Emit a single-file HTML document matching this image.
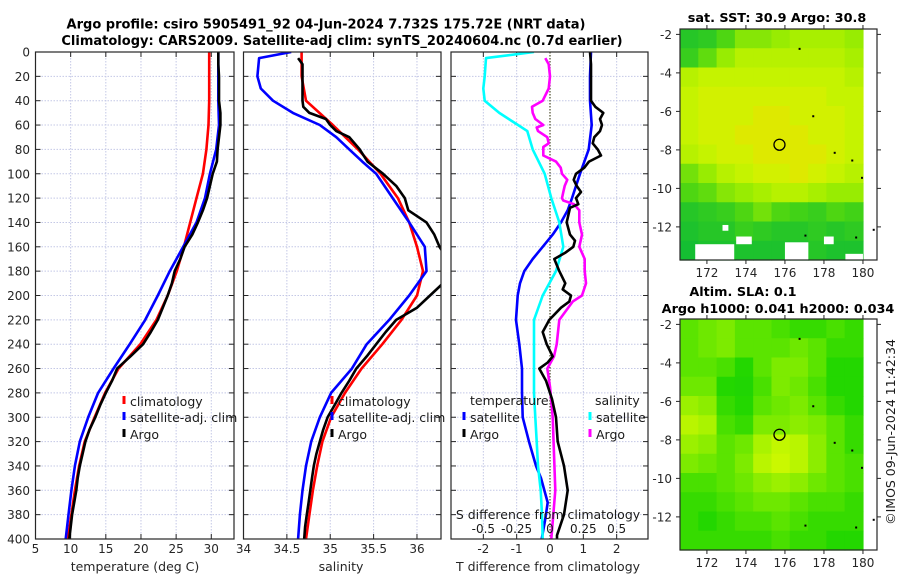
<!DOCTYPE html>
<html><head><meta charset="utf-8">
<style>
html,body{margin:0;padding:0;background:#fff;}
svg{display:block;font-family:"DejaVu Sans","Liberation Sans",sans-serif;}
</style></head>
<body>
<svg id="fig" width="900" height="580" viewBox="0 0 900 580" xmlns="http://www.w3.org/2000/svg">
<rect width="900" height="580" fill="#fff"/>
<text x="326" y="28.5" font-size="13" font-weight="bold" text-anchor="middle" fill="#000">Argo profile: csiro 5905491_92 04-Jun-2024 7.732S 175.72E (NRT data)</text>
<text x="342" y="45" font-size="13" font-weight="bold" text-anchor="middle" fill="#000">Climatology: CARS2009. Satellite-adj clim: synTS_20240604.nc (0.7d earlier)</text>
<g id="layer"></g>
</svg>
<script>
// ---------- data ----------
const depthTicks = [0,20,40,60,80,100,120,140,160,180,200,220,240,260,280,300,320,340,360,380,400];
const tTicks = [5,10,15,20,25,30];
const sTicks = [34,34.5,35,35.5,36];
const sTickLabels = ["34","34.5","35","35.5","36"];
const dTTicks = [-2,-1,0,1,2];
const dSTicks = [-0.5,-0.25,0,0.25,0.5];
const dSTickLabels = ["-0.5","-0.25","0","0.25","0.5"];

const tDepth = [0,20,40,60,80,100,120,140,160,180,200,220,240,260,280,300,320,340,360,380,400];
const tClim = [29.7,29.7,29.7,29.6,29.3,28.8,27.9,27.0,26.1,25.1,23.8,22.2,19.9,16.8,14.9,13.4,12.0,11.2,10.6,10.1,9.6];
const tSat = [31.0,31.0,31.0,31.1,30.7,29.8,29.1,27.9,26.0,24.1,22.4,20.6,18.4,16.1,13.9,12.5,11.3,10.6,10.1,9.7,9.3];
const tArgoDepth = [0,10,20,30,40,50,60,70,80,90,100,110,120,130,140,150,160,170,180,190,200,210,220,230,240,250,260,270,280,290,300,310,320,330,340,350,360,370,380,390,400];
const tArgo = [31.0,31.0,31.1,31.1,31.1,31.3,31.3,31.1,30.9,30.8,30.2,29.8,29.4,28.8,28.1,27.3,26.2,25.6,24.8,24.4,23.8,23.1,22.4,21.4,20.3,18.5,16.6,15.9,15.0,14.2,13.5,12.7,12.1,11.7,11.3,11.0,10.8,10.5,10.2,10.0,9.8];

const sDepth = [0,20,40,60,80,100,120,140,160,180,200,220,240,260,280,300,320,340,360,380,400];
const sClim = [34.67,34.67,34.72,35.03,35.32,35.58,35.78,35.91,36.0,36.07,36.0,35.82,35.6,35.36,35.17,35.01,34.91,34.85,34.80,34.76,34.72];
const sSatDepth = [0,5,20,30,40,50,60,70,80,90,100,120,140,160,180,200,220,240,260,280,300,320,340,360,380,400];
const sSat = [34.55,34.18,34.16,34.2,34.34,34.57,34.88,35.07,35.22,35.37,35.53,35.72,35.91,36.09,36.11,35.91,35.68,35.42,35.25,35.01,34.88,34.78,34.72,34.68,34.65,34.63];
const sArgoDepth = [5,10,20,30,40,45,50,55,60,65,70,80,90,100,110,120,130,140,150,160,170,180,190,200,210,220,230,240,250,260,270,280,290,300,310,320,330,340,350,360,370,380,390,400];
const sArgo = [34.63,34.68,34.68,34.68,34.68,34.69,34.76,34.95,35.0,35.07,35.22,35.34,35.43,35.61,35.76,35.86,35.9,36.11,36.2,36.26,36.35,36.4,36.3,36.15,36.0,35.76,35.64,35.53,35.42,35.3,35.22,35.13,35.05,34.97,34.92,34.88,34.84,34.81,34.79,34.77,34.75,34.73,34.71,34.70];

const dTSatDepth = [0,20,40,60,80,100,120,130,140,150,160,170,180,190,200,220,240,260,280,300,320,340,350,370,385,400];
const dTSat = [1.23,1.2,1.2,1.25,1.16,0.9,0.66,0.53,0.33,0.08,-0.22,-0.52,-0.77,-0.9,-0.97,-1.02,-0.92,-0.84,-0.84,-0.82,-0.63,-0.42,-0.27,-0.07,-0.15,-0.25];
const dTArgoDepth = [0,10,40,45,50,55,60,65,70,75,80,85,90,95,100,105,110,115,120,125,128,140,150,155,160,165,170,180,190,195,200,205,210,220,230,240,250,255,260,270,285,300,320,340,360,380,397,400];
const dTArgo = [1.2,1.23,1.23,1.36,1.6,1.5,1.56,1.5,1.33,1.28,1.43,1.53,1.17,1.03,0.78,0.71,0.8,0.93,0.78,0.85,0.6,0.5,0.6,0.75,0.7,0.45,0.13,0.28,0.46,0.38,0.63,0.58,0.33,-0.02,-0.22,-0.1,0.08,-0.07,-0.32,-0.12,0.06,0.18,0.23,0.42,0.53,0.42,0.21,0.21];
const dSSatDepth = [0,5,20,30,40,50,60,65,80,100,120,140,160,180,200,220,240,260,280,300,320,340,360,380,400];
const dSSat = [-0.12,-0.48,-0.49,-0.50,-0.49,-0.38,-0.24,-0.17,-0.13,-0.04,0.01,0.07,0.10,0.045,-0.055,-0.12,-0.12,-0.12,-0.12,-0.11,-0.10,-0.09,-0.07,-0.06,-0.055];
const dSArgoDepth = [5,10,20,30,40,45,50,55,60,62,65,70,75,78,85,90,95,100,105,110,115,120,122,125,130,140,150,160,170,180,190,200,205,220,240,250,260,275,300,330,360,400];
const dSArgo = [-0.035,-0.01,0,-0.01,-0.055,-0.135,-0.13,-0.11,-0.05,-0.1,-0.09,-0.02,-0.01,-0.05,-0.05,0.045,0.08,0.09,0.13,0.11,0.1,0.09,0.1,0.18,0.22,0.22,0.24,0.22,0.26,0.26,0.27,0.24,0.17,0.07,0.05,0.03,-0.02,0,0.02,0.03,0.04,0.01];

// maps
const lonTicks = [172,174,176,178,180];
const latTicks = [-2,-4,-6,-8,-10,-12];
const sstGrid = [
 [29.6,29.7,30.0,30.3,30.3,30.4,30.5,30.5,30.5,30.4],
 [29.8,30.1,30.4,30.6,30.6,30.6,30.6,30.6,30.6,30.5],
 [30.6,30.7,30.7,30.7,30.7,30.7,30.7,30.7,30.7,30.6],
 [30.7,30.8,30.8,30.8,30.8,30.8,30.8,30.8,30.7,30.7],
 [30.7,30.8,30.8,30.8,30.9,30.9,30.8,30.8,30.8,30.7],
 [30.7,30.8,30.8,30.9,30.9,30.9,30.9,30.8,30.8,30.7],
 [30.6,30.7,30.8,30.8,30.9,30.9,30.9,30.9,30.8,30.7],
 [30.2,30.4,30.6,30.7,30.8,30.8,30.9,30.8,30.7,30.6],
 [30.0,30.1,30.3,30.4,30.5,30.6,30.6,30.5,30.4,30.4],
 [29.6,29.7,29.8,30.0,30.2,30.0,29.9,29.8,30.0,29.9],
 [29.5,29.6,29.6,29.8,29.7,29.6,29.6,29.7,29.6,29.7],
 [29.4,29.5,29.5,29.5,29.5,29.5,29.5,29.6,29.5,29.5]
];
const sstGaps = [[171.4,173.4,-12.9,-13.7],[173.5,174.3,-12.5,-12.9],[176.0,177.2,-12.8,-13.7],[178.0,178.5,-12.5,-12.9],[179.1,180.0,-13.4,-13.7],[172.8,173.1,-11.9,-12.2]];
const slaGrid = [
 [0.45,0.5,0.55,0.45,0.45,0.4,0.35,0.35,0.4,0.35],
 [0.45,0.5,0.55,0.45,0.45,0.45,0.5,0.45,0.35,0.35],
 [0.45,0.45,0.4,0.3,0.45,0.55,0.55,0.45,0.3,0.3],
 [0.5,0.5,0.3,0.25,0.4,0.55,0.5,0.4,0.3,0.3],
 [0.65,0.6,0.35,0.3,0.45,0.5,0.55,0.45,0.35,0.3],
 [0.75,0.7,0.4,0.35,0.55,0.55,0.6,0.55,0.45,0.35],
 [0.65,0.6,0.45,0.5,0.7,0.78,0.75,0.6,0.45,0.35],
 [0.55,0.5,0.45,0.55,0.75,0.82,0.75,0.6,0.45,0.4],
 [0.4,0.4,0.45,0.5,0.6,0.65,0.6,0.5,0.45,0.4],
 [0.35,0.35,0.4,0.45,0.5,0.5,0.45,0.4,0.4,0.35],
 [0.35,0.3,0.35,0.4,0.4,0.45,0.4,0.35,0.35,0.35],
 [0.35,0.35,0.35,0.35,0.35,0.4,0.35,0.35,0.3,0.3]
];
const argoLon = 175.72;
const argoLat = -7.732;

// ---------- drawing ----------
const NS = "http://www.w3.org/2000/svg";
const layer = document.getElementById("layer");
function mk(tag, attrs, parent) {
  const e = document.createElementNS(NS, tag);
  for (const k in attrs) e.setAttribute(k, attrs[k]);
  (parent || layer).appendChild(e);
  return e;
}
function txt(x, y, s, size, anchor, parent, extra) {
  const e = mk("text", Object.assign({x: x, y: y, "font-size": size, "text-anchor": anchor || "start", fill: "#262626"}, extra || {}), parent);
  e.textContent = s;
  return e;
}
const TOP = 52, BOT = 539;
function yD(d) { return TOP + (BOT - TOP) * d / 400; }

function panel(name, x0, x1, vmin, vmax) {
  const g = mk("g", {});
  
  
  const sx = v => x0 + (x1 - x0) * (v - vmin) / (vmax - vmin);
  return {g, sx, x0, x1};
}
function frame(p, xgrid) {
  const gg = mk("g", {stroke: "#c4c8e6", "stroke-width": 1, "stroke-dasharray": "1.5,1.5"}, p.g);
  
  
  depthTicks.forEach(d => { mk("line", {x1: p.x0, x2: p.x1, y1: yD(d), y2: yD(d)}, gg); });
  xgrid.forEach(v => { const x = p.sx(v); mk("line", {x1: x, x2: x, y1: TOP, y2: BOT}, gg); });
  const tk = mk("g", {stroke: "#262626", "stroke-width": 1}, p.g);
  
  
  depthTicks.forEach(d => {
    mk("line", {x1: p.x0, x2: p.x0 + 5, y1: yD(d), y2: yD(d)}, tk);
    mk("line", {x1: p.x1 - 5, x2: p.x1, y1: yD(d), y2: yD(d)}, tk);
  });
  xgrid.forEach(v => { const x = p.sx(v); mk("line", {x1: x, x2: x, y1: BOT, y2: BOT - 5}, tk); mk("line", {x1: x, x2: x, y1: TOP, y2: TOP + 5}, tk); });
}
function border(p) {
  const b = mk("rect", {x: p.x0, y: TOP, width: p.x1 - p.x0, height: BOT - TOP, fill: "none", stroke: "#262626", "stroke-width": 1.2}, p.g);
  
  
}
let clipN = 0;
function line(p, xs, ds, color, name, w) {
  const id = "clip" + (clipN++);
  const cp = mk("clipPath", {id: id}, p.g);
  mk("rect", {x: p.x0, y: TOP, width: p.x1 - p.x0, height: BOT - TOP}, cp);
  const pts = xs.map((v, i) => p.sx(v).toFixed(1) + "," + yD(ds[i]).toFixed(1)).join(" ");
  const e = mk("polyline", {points: pts, fill: "none", stroke: color, "stroke-width": w || 2.6, "stroke-linejoin": "round", "clip-path": "url(#" + id + ")"}, p.g);
  
  
}
function legendEntry(p, x, y, color, label, name) {
  const g = mk("g", {}, p.g);
  
  
  mk("line", {x1: x, x2: x, y1: y - 10, y2: y - 2, stroke: color, "stroke-width": 3}, g);
  txt(x + 6, y, label, 12.5, "start", g, {fill: "#1a1a1a"});
}

// y tick labels
const yl = mk("g", {});


depthTicks.forEach(d => txt(30, yD(d) + 4.5, String(d), 12, "end", yl));

// Panel 1: temperature
const p1 = panel("temperature-panel", 35.5, 234, 5, 33.23);
frame(p1, tTicks);
line(p1, tClim, tDepth, "#ff0000", "temperature-climatology-line");
line(p1, tSat, tDepth, "#0000ff", "temperature-satellite-line");
line(p1, tArgo, tArgoDepth, "#000000", "temperature-argo-line");
border(p1);
tTicks.forEach(v => txt(p1.sx(v), 553, String(v), 12, "middle", p1.g));
txt(135, 571, "temperature (deg C)", 12.5, "middle", p1.g);
legendEntry(p1, 124, 406, "#ff0000", "climatology", "legend-climatology");
legendEntry(p1, 124, 422, "#0000ff", "satellite-adj. clim", "legend-satellite-adj");
legendEntry(p1, 124, 439, "#000000", "Argo", "legend-argo");

// Panel 2: salinity
const p2 = panel("salinity-panel", 243.5, 441, 34, 36.277);
frame(p2, sTicks.slice(1));
line(p2, sClim, sDepth, "#ff0000", "salinity-climatology-line");
line(p2, sSat, sSatDepth, "#0000ff", "salinity-satellite-line");
line(p2, sArgo, sArgoDepth, "#000000", "salinity-argo-line");
border(p2);
sTicks.forEach((v, i) => txt(p2.sx(v), 553, sTickLabels[i], 12, "middle", p2.g));
txt(341, 571, "salinity", 12.5, "middle", p2.g);
legendEntry(p2, 332, 406, "#ff0000", "climatology", "legend-climatology-2");
legendEntry(p2, 332, 422, "#0000ff", "satellite-adj. clim", "legend-satellite-adj-2");
legendEntry(p2, 332, 439, "#000000", "Argo", "legend-argo-2");

// Panel 3: differences
const p3 = panel("difference-panel", 451, 648, -2.97, 2.94);
const sS = v => p3.sx(v * 4);
frame(p3, [-2,-1,1,2]);
const zl = mk("line", {x1: p3.sx(0), x2: p3.sx(0), y1: TOP, y2: BOT, stroke: "#4a4a2a", "stroke-width": 1.2, "stroke-dasharray": "1.5,1.5"}, p3.g);


line(p3, dTSat, dTSatDepth, "#0000ff", "temp-diff-satellite-line");
line(p3, dSSat.map(v => v * 4), dSSatDepth, "#00ffff", "sal-diff-satellite-line");
line(p3, dSArgo.map(v => v * 4), dSArgoDepth, "#ff00ff", "sal-diff-argo-line");
line(p3, dTArgo, dTArgoDepth, "#000000", "temp-diff-argo-line");
border(p3);
dTTicks.forEach(v => txt(p3.sx(v), 553, String(v), 12, "middle", p3.g));
txt(548, 571, "T difference from climatology", 12.5, "middle", p3.g);
txt(548, 519, "S difference from climatology", 12.5, "middle", p3.g, {fill: "#1a1a1a"});
dSTicks.forEach((v, i) => txt(sS(v), 533, dSTickLabels[i], 12, "middle", p3.g, {fill: "#1a1a1a"}));
txt(470, 405, "temperature", 12.5, "start", p3.g, {fill: "#1a1a1a"});
txt(595, 405, "salinity", 12.5, "start", p3.g, {fill: "#1a1a1a"});
legendEntry(p3, 464, 422, "#0000ff", "satellite", "legend-temp-satellite");
legendEntry(p3, 464, 439, "#000000", "Argo", "legend-temp-argo");
legendEntry(p3, 590, 422, "#00ffff", "satellite", "legend-sal-satellite");
legendEntry(p3, 590, 439, "#ff00ff", "Argo", "legend-sal-argo");

// ---------- maps ----------
function interp(stops, t) {
  t = Math.max(0, Math.min(1, t));
  for (let i = 1; i < stops.length; i++) {
    if (t <= stops[i][0]) {
      const a = stops[i - 1], b = stops[i], f = (t - a[0]) / (b[0] - a[0]);
      return "rgb(" + [1,2,3].map(k => Math.round(a[k] + (b[k] - a[k]) * f)).join(",") + ")";
    }
  }
  const l = stops[stops.length - 1];
  return "rgb(" + l[1] + "," + l[2] + "," + l[3] + ")";
}
const sstStops = [[0,20,190,50],[0.35,70,212,20],[0.65,160,238,0],[0.85,205,244,0],[1,235,225,0]];
const slaStops = [[0,15,200,20],[0.3,35,215,0],[0.5,110,232,0],[0.8,200,248,0],[1,220,250,0]];

function drawMap(name, y0, y1, grid, stops, vmin, vmax, gaps, titleLines) {
  const x0 = 680, x1 = 877;
  const lonMin = 170.62, lonMax = 180.72, latTop = -1.72, latBot = -13.72;
  const g = mk("g", {});
  
  
  const sx = lon => x0 + (x1 - x0) * (lon - lonMin) / (lonMax - lonMin);
  const sy = lat => y0 + (y1 - y0) * (latTop - lat) / (latTop - latBot);
  const nr = grid.length, nc = grid[0].length;
  const lonEnd = 180.0;
  for (let r = 0; r < nr; r++) {
    for (let c = 0; c < nc; c++) {
      const la0 = latTop - (latTop - latBot) * r / nr, la1 = latTop - (latTop - latBot) * (r + 1) / nr;
      const lo0 = lonMin + (lonEnd - lonMin) * c / nc, lo1 = lonMin + (lonEnd - lonMin) * (c + 1) / nc;
      const cell = mk("rect", {x: sx(lo0).toFixed(2), y: sy(la0).toFixed(2), width: (sx(lo1) - sx(lo0) + 0.6).toFixed(2), height: (sy(la1) - sy(la0) + 0.6).toFixed(2), fill: interp(stops, (grid[r][c] - vmin) / (vmax - vmin))}, g);
      
      
    }
  }
  (gaps || []).forEach(gp => {
    const w = mk("rect", {x: sx(gp[0]), y: sy(gp[2]), width: sx(gp[1]) - sx(gp[0]), height: sy(gp[3]) - sy(gp[2]), fill: "#fff"}, g);
    
    
  });
  const m = mk("circle", {cx: sx(argoLon), cy: sy(argoLat), r: 5.5, fill: "none", stroke: "#000", "stroke-width": 1.3}, g);
  
  
  [[176.7,-2.7],[177.4,-6.2],[178.5,-8.1],[179.4,-8.5],[179.9,-9.4],[179.6,-12.5],[177.0,-12.4],[180.5,-12.1]].forEach(p => {
    const d = mk("rect", {x: sx(p[0]), y: sy(p[1]), width: 2, height: 2, fill: "#000"}, g);
    
    
  });
  const fr = mk("rect", {x: x0, y: y0, width: x1 - x0, height: y1 - y0, fill: "none", stroke: "#262626", "stroke-width": 1.2}, g);
  
  
  latTicks.forEach(la => {
    const y = sy(la);
    mk("line", {x1: x0 - 4, x2: x0, y1: y, y2: y, stroke: "#262626"}, g);
    mk("line", {x1: x1, x2: x1 + 4, y1: y, y2: y, stroke: "#262626"}, g);
    txt(672, y + 4.5, String(la), 12, "end", g);
  });
  lonTicks.forEach(lo => {
    const x = sx(lo);
    mk("line", {x1: x, x2: x, y1: y1, y2: y1 + 4, stroke: "#262626"}, g);
    mk("line", {x1: x, x2: x, y1: y0 - 4, y2: y0, stroke: "#262626"}, g);
    txt(x, y1 + 17, String(lo), 12, "middle", g);
  });
  titleLines.forEach(t => {
    const e = txt(t[0], t[1], t[2], 12.8, "middle", g, {"font-weight": "bold", fill: "#000"});
    
    
  });
}
drawMap("sst-map", 29, 260, sstGrid, sstStops, 29.4, 31.0, sstGaps, [[777, 22, "sat. SST: 30.9 Argo: 30.8"]]);
drawMap("sla-map", 319, 550, slaGrid, slaStops, 0, 1, [], [[743, 296, "Altim. SLA: 0.1"], [778, 313, "Argo h1000: 0.041 h2000: 0.034"]]);

const cr = txt(0, 0, "\u00a9IMOS 09-Jun-2024 11:42:34", 12.5, "middle", null, {transform: "translate(895,432) rotate(-90)", fill: "#1a1a1a"});


</script>
</body></html>
